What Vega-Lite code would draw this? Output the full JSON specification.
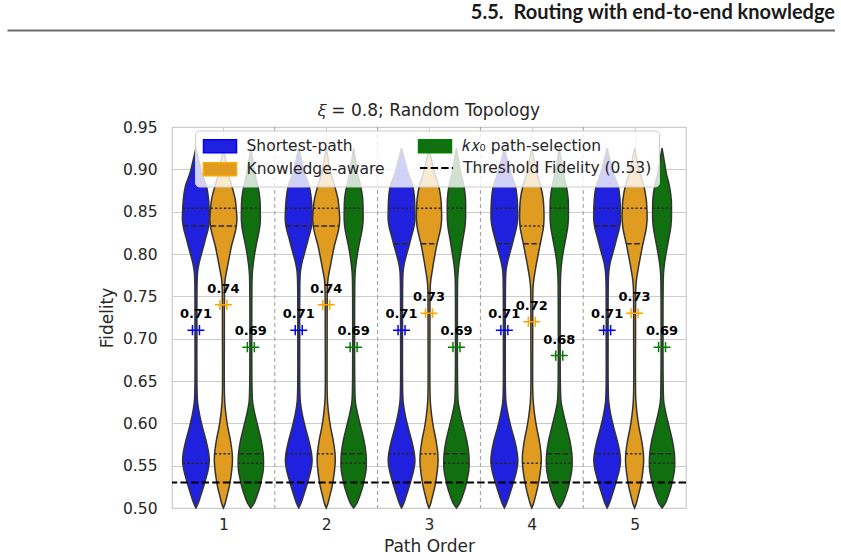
{
  "$schema": "https://vega.github.io/schema/vega-lite/v6.json",
  "padding": {"left": 7, "top": 3, "right": 0, "bottom": 0},
  "background": "white",
  "config": {
    "font": "DejaVu Sans",
    "view": {"stroke": null}
  },
  "datasets": {
    "shapes": [
      {"order":1,"m":"SP","f":0.925,"d":0},{"order":1,"m":"SP","f":0.91,"d":0.22},{"order":1,"m":"SP","f":0.895,"d":0.45},{"order":1,"m":"SP","f":0.88,"d":0.78},{"order":1,"m":"SP","f":0.865,"d":0.93},{"order":1,"m":"SP","f":0.85,"d":0.99},{"order":1,"m":"SP","f":0.84,"d":1.0},{"order":1,"m":"SP","f":0.83,"d":0.91},{"order":1,"m":"SP","f":0.82,"d":0.74},{"order":1,"m":"SP","f":0.81,"d":0.58},{"order":1,"m":"SP","f":0.8,"d":0.41},{"order":1,"m":"SP","f":0.79,"d":0.24},{"order":1,"m":"SP","f":0.78,"d":0.13},{"order":1,"m":"SP","f":0.77,"d":0.09},{"order":1,"m":"SP","f":0.7,"d":0.07},{"order":1,"m":"SP","f":0.64,"d":0.08},{"order":1,"m":"SP","f":0.625,"d":0.12},{"order":1,"m":"SP","f":0.61,"d":0.27},{"order":1,"m":"SP","f":0.595,"d":0.49},{"order":1,"m":"SP","f":0.58,"d":0.74},{"order":1,"m":"SP","f":0.565,"d":0.94},{"order":1,"m":"SP","f":0.555,"d":0.99},{"order":1,"m":"SP","f":0.545,"d":0.9},{"order":1,"m":"SP","f":0.535,"d":0.74},{"order":1,"m":"SP","f":0.525,"d":0.56},{"order":1,"m":"SP","f":0.515,"d":0.36},{"order":1,"m":"SP","f":0.505,"d":0.15},{"order":1,"m":"SP","f":0.5,"d":0},
      {"order":1,"m":"KA","f":0.925,"d":0},{"order":1,"m":"KA","f":0.91,"d":0.17},{"order":1,"m":"KA","f":0.895,"d":0.35},{"order":1,"m":"KA","f":0.88,"d":0.63},{"order":1,"m":"KA","f":0.865,"d":0.87},{"order":1,"m":"KA","f":0.85,"d":0.97},{"order":1,"m":"KA","f":0.84,"d":1.0},{"order":1,"m":"KA","f":0.83,"d":0.93},{"order":1,"m":"KA","f":0.82,"d":0.78},{"order":1,"m":"KA","f":0.81,"d":0.61},{"order":1,"m":"KA","f":0.8,"d":0.48},{"order":1,"m":"KA","f":0.79,"d":0.36},{"order":1,"m":"KA","f":0.78,"d":0.24},{"order":1,"m":"KA","f":0.77,"d":0.13},{"order":1,"m":"KA","f":0.76,"d":0.09},{"order":1,"m":"KA","f":0.7,"d":0.07},{"order":1,"m":"KA","f":0.64,"d":0.07},{"order":1,"m":"KA","f":0.625,"d":0.1},{"order":1,"m":"KA","f":0.61,"d":0.19},{"order":1,"m":"KA","f":0.595,"d":0.33},{"order":1,"m":"KA","f":0.58,"d":0.52},{"order":1,"m":"KA","f":0.565,"d":0.65},{"order":1,"m":"KA","f":0.555,"d":0.67},{"order":1,"m":"KA","f":0.545,"d":0.62},{"order":1,"m":"KA","f":0.535,"d":0.54},{"order":1,"m":"KA","f":0.525,"d":0.43},{"order":1,"m":"KA","f":0.515,"d":0.28},{"order":1,"m":"KA","f":0.505,"d":0.12},{"order":1,"m":"KA","f":0.5,"d":0},
      {"order":1,"m":"KX","f":0.925,"d":0},{"order":1,"m":"KX","f":0.91,"d":0.15},{"order":1,"m":"KX","f":0.895,"d":0.3},{"order":1,"m":"KX","f":0.88,"d":0.52},{"order":1,"m":"KX","f":0.865,"d":0.67},{"order":1,"m":"KX","f":0.85,"d":0.7},{"order":1,"m":"KX","f":0.84,"d":0.7},{"order":1,"m":"KX","f":0.83,"d":0.64},{"order":1,"m":"KX","f":0.82,"d":0.52},{"order":1,"m":"KX","f":0.81,"d":0.39},{"order":1,"m":"KX","f":0.8,"d":0.28},{"order":1,"m":"KX","f":0.79,"d":0.19},{"order":1,"m":"KX","f":0.78,"d":0.12},{"order":1,"m":"KX","f":0.77,"d":0.09},{"order":1,"m":"KX","f":0.7,"d":0.07},{"order":1,"m":"KX","f":0.64,"d":0.09},{"order":1,"m":"KX","f":0.625,"d":0.13},{"order":1,"m":"KX","f":0.61,"d":0.31},{"order":1,"m":"KX","f":0.595,"d":0.54},{"order":1,"m":"KX","f":0.58,"d":0.76},{"order":1,"m":"KX","f":0.565,"d":0.91},{"order":1,"m":"KX","f":0.555,"d":0.94},{"order":1,"m":"KX","f":0.545,"d":0.92},{"order":1,"m":"KX","f":0.535,"d":0.81},{"order":1,"m":"KX","f":0.525,"d":0.67},{"order":1,"m":"KX","f":0.515,"d":0.47},{"order":1,"m":"KX","f":0.505,"d":0.22},{"order":1,"m":"KX","f":0.5,"d":0},

      {"order":2,"m":"SP","f":0.925,"d":0},{"order":2,"m":"SP","f":0.91,"d":0.22},{"order":2,"m":"SP","f":0.895,"d":0.45},{"order":2,"m":"SP","f":0.88,"d":0.78},{"order":2,"m":"SP","f":0.865,"d":0.93},{"order":2,"m":"SP","f":0.85,"d":0.99},{"order":2,"m":"SP","f":0.84,"d":1.0},{"order":2,"m":"SP","f":0.83,"d":0.91},{"order":2,"m":"SP","f":0.82,"d":0.74},{"order":2,"m":"SP","f":0.81,"d":0.58},{"order":2,"m":"SP","f":0.8,"d":0.41},{"order":2,"m":"SP","f":0.79,"d":0.24},{"order":2,"m":"SP","f":0.78,"d":0.13},{"order":2,"m":"SP","f":0.77,"d":0.09},{"order":2,"m":"SP","f":0.7,"d":0.07},{"order":2,"m":"SP","f":0.64,"d":0.08},{"order":2,"m":"SP","f":0.625,"d":0.12},{"order":2,"m":"SP","f":0.61,"d":0.27},{"order":2,"m":"SP","f":0.595,"d":0.49},{"order":2,"m":"SP","f":0.58,"d":0.74},{"order":2,"m":"SP","f":0.565,"d":0.94},{"order":2,"m":"SP","f":0.555,"d":0.99},{"order":2,"m":"SP","f":0.545,"d":0.9},{"order":2,"m":"SP","f":0.535,"d":0.74},{"order":2,"m":"SP","f":0.525,"d":0.56},{"order":2,"m":"SP","f":0.515,"d":0.36},{"order":2,"m":"SP","f":0.505,"d":0.15},{"order":2,"m":"SP","f":0.5,"d":0},
      {"order":2,"m":"KA","f":0.925,"d":0},{"order":2,"m":"KA","f":0.91,"d":0.17},{"order":2,"m":"KA","f":0.895,"d":0.35},{"order":2,"m":"KA","f":0.88,"d":0.63},{"order":2,"m":"KA","f":0.865,"d":0.87},{"order":2,"m":"KA","f":0.85,"d":0.97},{"order":2,"m":"KA","f":0.84,"d":1.0},{"order":2,"m":"KA","f":0.83,"d":0.93},{"order":2,"m":"KA","f":0.82,"d":0.78},{"order":2,"m":"KA","f":0.81,"d":0.61},{"order":2,"m":"KA","f":0.8,"d":0.48},{"order":2,"m":"KA","f":0.79,"d":0.36},{"order":2,"m":"KA","f":0.78,"d":0.24},{"order":2,"m":"KA","f":0.77,"d":0.13},{"order":2,"m":"KA","f":0.76,"d":0.09},{"order":2,"m":"KA","f":0.7,"d":0.07},{"order":2,"m":"KA","f":0.64,"d":0.07},{"order":2,"m":"KA","f":0.625,"d":0.1},{"order":2,"m":"KA","f":0.61,"d":0.19},{"order":2,"m":"KA","f":0.595,"d":0.33},{"order":2,"m":"KA","f":0.58,"d":0.52},{"order":2,"m":"KA","f":0.565,"d":0.65},{"order":2,"m":"KA","f":0.555,"d":0.67},{"order":2,"m":"KA","f":0.545,"d":0.62},{"order":2,"m":"KA","f":0.535,"d":0.54},{"order":2,"m":"KA","f":0.525,"d":0.43},{"order":2,"m":"KA","f":0.515,"d":0.28},{"order":2,"m":"KA","f":0.505,"d":0.12},{"order":2,"m":"KA","f":0.5,"d":0},
      {"order":2,"m":"KX","f":0.925,"d":0},{"order":2,"m":"KX","f":0.91,"d":0.15},{"order":2,"m":"KX","f":0.895,"d":0.3},{"order":2,"m":"KX","f":0.88,"d":0.52},{"order":2,"m":"KX","f":0.865,"d":0.67},{"order":2,"m":"KX","f":0.85,"d":0.7},{"order":2,"m":"KX","f":0.84,"d":0.7},{"order":2,"m":"KX","f":0.83,"d":0.64},{"order":2,"m":"KX","f":0.82,"d":0.52},{"order":2,"m":"KX","f":0.81,"d":0.39},{"order":2,"m":"KX","f":0.8,"d":0.28},{"order":2,"m":"KX","f":0.79,"d":0.19},{"order":2,"m":"KX","f":0.78,"d":0.12},{"order":2,"m":"KX","f":0.77,"d":0.09},{"order":2,"m":"KX","f":0.7,"d":0.07},{"order":2,"m":"KX","f":0.64,"d":0.09},{"order":2,"m":"KX","f":0.625,"d":0.13},{"order":2,"m":"KX","f":0.61,"d":0.31},{"order":2,"m":"KX","f":0.595,"d":0.54},{"order":2,"m":"KX","f":0.58,"d":0.76},{"order":2,"m":"KX","f":0.565,"d":0.91},{"order":2,"m":"KX","f":0.555,"d":0.94},{"order":2,"m":"KX","f":0.545,"d":0.92},{"order":2,"m":"KX","f":0.535,"d":0.81},{"order":2,"m":"KX","f":0.525,"d":0.67},{"order":2,"m":"KX","f":0.515,"d":0.47},{"order":2,"m":"KX","f":0.505,"d":0.22},{"order":2,"m":"KX","f":0.5,"d":0},

      {"order":3,"m":"SP","f":0.925,"d":0},{"order":3,"m":"SP","f":0.91,"d":0.24},{"order":3,"m":"SP","f":0.895,"d":0.5},{"order":3,"m":"SP","f":0.88,"d":0.84},{"order":3,"m":"SP","f":0.865,"d":0.96},{"order":3,"m":"SP","f":0.85,"d":0.99},{"order":3,"m":"SP","f":0.84,"d":0.99},{"order":3,"m":"SP","f":0.83,"d":0.89},{"order":3,"m":"SP","f":0.82,"d":0.72},{"order":3,"m":"SP","f":0.81,"d":0.56},{"order":3,"m":"SP","f":0.8,"d":0.38},{"order":3,"m":"SP","f":0.79,"d":0.22},{"order":3,"m":"SP","f":0.78,"d":0.12},{"order":3,"m":"SP","f":0.77,"d":0.09},{"order":3,"m":"SP","f":0.7,"d":0.07},{"order":3,"m":"SP","f":0.64,"d":0.08},{"order":3,"m":"SP","f":0.625,"d":0.12},{"order":3,"m":"SP","f":0.61,"d":0.27},{"order":3,"m":"SP","f":0.595,"d":0.49},{"order":3,"m":"SP","f":0.58,"d":0.74},{"order":3,"m":"SP","f":0.565,"d":0.94},{"order":3,"m":"SP","f":0.555,"d":0.99},{"order":3,"m":"SP","f":0.545,"d":0.9},{"order":3,"m":"SP","f":0.535,"d":0.74},{"order":3,"m":"SP","f":0.525,"d":0.56},{"order":3,"m":"SP","f":0.515,"d":0.36},{"order":3,"m":"SP","f":0.505,"d":0.15},{"order":3,"m":"SP","f":0.5,"d":0},
      {"order":3,"m":"KA","f":0.925,"d":0},{"order":3,"m":"KA","f":0.91,"d":0.2},{"order":3,"m":"KA","f":0.895,"d":0.42},{"order":3,"m":"KA","f":0.88,"d":0.72},{"order":3,"m":"KA","f":0.865,"d":0.88},{"order":3,"m":"KA","f":0.85,"d":0.93},{"order":3,"m":"KA","f":0.84,"d":0.93},{"order":3,"m":"KA","f":0.83,"d":0.86},{"order":3,"m":"KA","f":0.82,"d":0.72},{"order":3,"m":"KA","f":0.81,"d":0.57},{"order":3,"m":"KA","f":0.8,"d":0.45},{"order":3,"m":"KA","f":0.79,"d":0.34},{"order":3,"m":"KA","f":0.78,"d":0.24},{"order":3,"m":"KA","f":0.77,"d":0.14},{"order":3,"m":"KA","f":0.76,"d":0.09},{"order":3,"m":"KA","f":0.7,"d":0.07},{"order":3,"m":"KA","f":0.64,"d":0.07},{"order":3,"m":"KA","f":0.625,"d":0.1},{"order":3,"m":"KA","f":0.61,"d":0.19},{"order":3,"m":"KA","f":0.595,"d":0.33},{"order":3,"m":"KA","f":0.58,"d":0.52},{"order":3,"m":"KA","f":0.565,"d":0.65},{"order":3,"m":"KA","f":0.555,"d":0.67},{"order":3,"m":"KA","f":0.545,"d":0.62},{"order":3,"m":"KA","f":0.535,"d":0.54},{"order":3,"m":"KA","f":0.525,"d":0.43},{"order":3,"m":"KA","f":0.515,"d":0.28},{"order":3,"m":"KA","f":0.505,"d":0.12},{"order":3,"m":"KA","f":0.5,"d":0},
      {"order":3,"m":"KX","f":0.925,"d":0},{"order":3,"m":"KX","f":0.91,"d":0.16},{"order":3,"m":"KX","f":0.895,"d":0.33},{"order":3,"m":"KX","f":0.88,"d":0.56},{"order":3,"m":"KX","f":0.865,"d":0.67},{"order":3,"m":"KX","f":0.85,"d":0.68},{"order":3,"m":"KX","f":0.84,"d":0.67},{"order":3,"m":"KX","f":0.83,"d":0.61},{"order":3,"m":"KX","f":0.82,"d":0.5},{"order":3,"m":"KX","f":0.81,"d":0.4},{"order":3,"m":"KX","f":0.8,"d":0.3},{"order":3,"m":"KX","f":0.79,"d":0.2},{"order":3,"m":"KX","f":0.78,"d":0.13},{"order":3,"m":"KX","f":0.77,"d":0.09},{"order":3,"m":"KX","f":0.7,"d":0.07},{"order":3,"m":"KX","f":0.64,"d":0.09},{"order":3,"m":"KX","f":0.625,"d":0.13},{"order":3,"m":"KX","f":0.61,"d":0.31},{"order":3,"m":"KX","f":0.595,"d":0.54},{"order":3,"m":"KX","f":0.58,"d":0.76},{"order":3,"m":"KX","f":0.565,"d":0.91},{"order":3,"m":"KX","f":0.555,"d":0.94},{"order":3,"m":"KX","f":0.545,"d":0.92},{"order":3,"m":"KX","f":0.535,"d":0.81},{"order":3,"m":"KX","f":0.525,"d":0.67},{"order":3,"m":"KX","f":0.515,"d":0.47},{"order":3,"m":"KX","f":0.505,"d":0.22},{"order":3,"m":"KX","f":0.5,"d":0},

      {"order":4,"m":"SP","f":0.925,"d":0},{"order":4,"m":"SP","f":0.91,"d":0.24},{"order":4,"m":"SP","f":0.895,"d":0.5},{"order":4,"m":"SP","f":0.88,"d":0.82},{"order":4,"m":"SP","f":0.865,"d":0.95},{"order":4,"m":"SP","f":0.85,"d":0.99},{"order":4,"m":"SP","f":0.84,"d":0.98},{"order":4,"m":"SP","f":0.83,"d":0.88},{"order":4,"m":"SP","f":0.82,"d":0.72},{"order":4,"m":"SP","f":0.81,"d":0.56},{"order":4,"m":"SP","f":0.8,"d":0.39},{"order":4,"m":"SP","f":0.79,"d":0.23},{"order":4,"m":"SP","f":0.78,"d":0.12},{"order":4,"m":"SP","f":0.77,"d":0.09},{"order":4,"m":"SP","f":0.7,"d":0.07},{"order":4,"m":"SP","f":0.64,"d":0.08},{"order":4,"m":"SP","f":0.625,"d":0.12},{"order":4,"m":"SP","f":0.61,"d":0.28},{"order":4,"m":"SP","f":0.595,"d":0.5},{"order":4,"m":"SP","f":0.58,"d":0.76},{"order":4,"m":"SP","f":0.565,"d":0.95},{"order":4,"m":"SP","f":0.555,"d":1.0},{"order":4,"m":"SP","f":0.545,"d":0.92},{"order":4,"m":"SP","f":0.535,"d":0.76},{"order":4,"m":"SP","f":0.525,"d":0.57},{"order":4,"m":"SP","f":0.515,"d":0.37},{"order":4,"m":"SP","f":0.505,"d":0.15},{"order":4,"m":"SP","f":0.5,"d":0},
      {"order":4,"m":"KA","f":0.925,"d":0},{"order":4,"m":"KA","f":0.91,"d":0.18},{"order":4,"m":"KA","f":0.895,"d":0.38},{"order":4,"m":"KA","f":0.88,"d":0.66},{"order":4,"m":"KA","f":0.865,"d":0.84},{"order":4,"m":"KA","f":0.85,"d":0.9},{"order":4,"m":"KA","f":0.84,"d":0.9},{"order":4,"m":"KA","f":0.83,"d":0.85},{"order":4,"m":"KA","f":0.82,"d":0.73},{"order":4,"m":"KA","f":0.81,"d":0.6},{"order":4,"m":"KA","f":0.8,"d":0.48},{"order":4,"m":"KA","f":0.79,"d":0.36},{"order":4,"m":"KA","f":0.78,"d":0.25},{"order":4,"m":"KA","f":0.77,"d":0.15},{"order":4,"m":"KA","f":0.76,"d":0.09},{"order":4,"m":"KA","f":0.7,"d":0.07},{"order":4,"m":"KA","f":0.64,"d":0.07},{"order":4,"m":"KA","f":0.625,"d":0.11},{"order":4,"m":"KA","f":0.61,"d":0.21},{"order":4,"m":"KA","f":0.595,"d":0.36},{"order":4,"m":"KA","f":0.58,"d":0.55},{"order":4,"m":"KA","f":0.565,"d":0.68},{"order":4,"m":"KA","f":0.555,"d":0.7},{"order":4,"m":"KA","f":0.545,"d":0.65},{"order":4,"m":"KA","f":0.535,"d":0.56},{"order":4,"m":"KA","f":0.525,"d":0.44},{"order":4,"m":"KA","f":0.515,"d":0.29},{"order":4,"m":"KA","f":0.505,"d":0.12},{"order":4,"m":"KA","f":0.5,"d":0},
      {"order":4,"m":"KX","f":0.925,"d":0},{"order":4,"m":"KX","f":0.91,"d":0.15},{"order":4,"m":"KX","f":0.895,"d":0.31},{"order":4,"m":"KX","f":0.88,"d":0.53},{"order":4,"m":"KX","f":0.865,"d":0.66},{"order":4,"m":"KX","f":0.85,"d":0.68},{"order":4,"m":"KX","f":0.84,"d":0.67},{"order":4,"m":"KX","f":0.83,"d":0.61},{"order":4,"m":"KX","f":0.82,"d":0.5},{"order":4,"m":"KX","f":0.81,"d":0.38},{"order":4,"m":"KX","f":0.8,"d":0.27},{"order":4,"m":"KX","f":0.79,"d":0.18},{"order":4,"m":"KX","f":0.78,"d":0.12},{"order":4,"m":"KX","f":0.77,"d":0.09},{"order":4,"m":"KX","f":0.7,"d":0.07},{"order":4,"m":"KX","f":0.64,"d":0.09},{"order":4,"m":"KX","f":0.625,"d":0.14},{"order":4,"m":"KX","f":0.61,"d":0.33},{"order":4,"m":"KX","f":0.595,"d":0.56},{"order":4,"m":"KX","f":0.58,"d":0.78},{"order":4,"m":"KX","f":0.565,"d":0.93},{"order":4,"m":"KX","f":0.555,"d":0.96},{"order":4,"m":"KX","f":0.545,"d":0.93},{"order":4,"m":"KX","f":0.535,"d":0.82},{"order":4,"m":"KX","f":0.525,"d":0.68},{"order":4,"m":"KX","f":0.515,"d":0.48},{"order":4,"m":"KX","f":0.505,"d":0.22},{"order":4,"m":"KX","f":0.5,"d":0},

      {"order":5,"m":"SP","f":0.925,"d":0},{"order":5,"m":"SP","f":0.91,"d":0.23},{"order":5,"m":"SP","f":0.895,"d":0.48},{"order":5,"m":"SP","f":0.88,"d":0.82},{"order":5,"m":"SP","f":0.865,"d":0.95},{"order":5,"m":"SP","f":0.85,"d":0.99},{"order":5,"m":"SP","f":0.84,"d":0.99},{"order":5,"m":"SP","f":0.83,"d":0.9},{"order":5,"m":"SP","f":0.82,"d":0.73},{"order":5,"m":"SP","f":0.81,"d":0.57},{"order":5,"m":"SP","f":0.8,"d":0.4},{"order":5,"m":"SP","f":0.79,"d":0.23},{"order":5,"m":"SP","f":0.78,"d":0.13},{"order":5,"m":"SP","f":0.77,"d":0.09},{"order":5,"m":"SP","f":0.7,"d":0.07},{"order":5,"m":"SP","f":0.64,"d":0.08},{"order":5,"m":"SP","f":0.625,"d":0.12},{"order":5,"m":"SP","f":0.61,"d":0.27},{"order":5,"m":"SP","f":0.595,"d":0.49},{"order":5,"m":"SP","f":0.58,"d":0.74},{"order":5,"m":"SP","f":0.565,"d":0.94},{"order":5,"m":"SP","f":0.555,"d":0.99},{"order":5,"m":"SP","f":0.545,"d":0.9},{"order":5,"m":"SP","f":0.535,"d":0.74},{"order":5,"m":"SP","f":0.525,"d":0.56},{"order":5,"m":"SP","f":0.515,"d":0.36},{"order":5,"m":"SP","f":0.505,"d":0.15},{"order":5,"m":"SP","f":0.5,"d":0},
      {"order":5,"m":"KA","f":0.925,"d":0},{"order":5,"m":"KA","f":0.91,"d":0.19},{"order":5,"m":"KA","f":0.895,"d":0.4},{"order":5,"m":"KA","f":0.88,"d":0.69},{"order":5,"m":"KA","f":0.865,"d":0.86},{"order":5,"m":"KA","f":0.85,"d":0.92},{"order":5,"m":"KA","f":0.84,"d":0.92},{"order":5,"m":"KA","f":0.83,"d":0.86},{"order":5,"m":"KA","f":0.82,"d":0.73},{"order":5,"m":"KA","f":0.81,"d":0.59},{"order":5,"m":"KA","f":0.8,"d":0.47},{"order":5,"m":"KA","f":0.79,"d":0.35},{"order":5,"m":"KA","f":0.78,"d":0.24},{"order":5,"m":"KA","f":0.77,"d":0.14},{"order":5,"m":"KA","f":0.76,"d":0.09},{"order":5,"m":"KA","f":0.7,"d":0.07},{"order":5,"m":"KA","f":0.64,"d":0.07},{"order":5,"m":"KA","f":0.625,"d":0.1},{"order":5,"m":"KA","f":0.61,"d":0.19},{"order":5,"m":"KA","f":0.595,"d":0.33},{"order":5,"m":"KA","f":0.58,"d":0.52},{"order":5,"m":"KA","f":0.565,"d":0.65},{"order":5,"m":"KA","f":0.555,"d":0.67},{"order":5,"m":"KA","f":0.545,"d":0.62},{"order":5,"m":"KA","f":0.535,"d":0.54},{"order":5,"m":"KA","f":0.525,"d":0.43},{"order":5,"m":"KA","f":0.515,"d":0.28},{"order":5,"m":"KA","f":0.505,"d":0.12},{"order":5,"m":"KA","f":0.5,"d":0},
      {"order":5,"m":"KX","f":0.925,"d":0},{"order":5,"m":"KX","f":0.91,"d":0.16},{"order":5,"m":"KX","f":0.895,"d":0.32},{"order":5,"m":"KX","f":0.88,"d":0.55},{"order":5,"m":"KX","f":0.865,"d":0.68},{"order":5,"m":"KX","f":0.85,"d":0.7},{"order":5,"m":"KX","f":0.84,"d":0.69},{"order":5,"m":"KX","f":0.83,"d":0.63},{"order":5,"m":"KX","f":0.82,"d":0.52},{"order":5,"m":"KX","f":0.81,"d":0.4},{"order":5,"m":"KX","f":0.8,"d":0.29},{"order":5,"m":"KX","f":0.79,"d":0.19},{"order":5,"m":"KX","f":0.78,"d":0.12},{"order":5,"m":"KX","f":0.77,"d":0.09},{"order":5,"m":"KX","f":0.7,"d":0.07},{"order":5,"m":"KX","f":0.64,"d":0.09},{"order":5,"m":"KX","f":0.625,"d":0.13},{"order":5,"m":"KX","f":0.61,"d":0.31},{"order":5,"m":"KX","f":0.595,"d":0.54},{"order":5,"m":"KX","f":0.58,"d":0.76},{"order":5,"m":"KX","f":0.565,"d":0.91},{"order":5,"m":"KX","f":0.555,"d":0.94},{"order":5,"m":"KX","f":0.545,"d":0.92},{"order":5,"m":"KX","f":0.535,"d":0.81},{"order":5,"m":"KX","f":0.525,"d":0.67},{"order":5,"m":"KX","f":0.515,"d":0.47},{"order":5,"m":"KX","f":0.505,"d":0.22},{"order":5,"m":"KX","f":0.5,"d":0}
    ],
    "quartiles": [
      {"order":1,"m":"SP","f":0.854,"d":0.97,"kind":"quartile"},{"order":1,"m":"SP","f":0.833,"d":0.94,"kind":"median"},{"order":1,"m":"SP","f":0.553,"d":0.97,"kind":"quartile"},
      {"order":1,"m":"KA","f":0.854,"d":0.94,"kind":"quartile"},{"order":1,"m":"KA","f":0.833,"d":0.95,"kind":"median"},{"order":1,"m":"KA","f":0.564,"d":0.65,"kind":"quartile"},
      {"order":1,"m":"KX","f":0.854,"d":0.69,"kind":"quartile"},{"order":1,"m":"KX","f":0.564,"d":0.91,"kind":"median"},{"order":1,"m":"KX","f":0.553,"d":0.94,"kind":"quartile"},
      {"order":2,"m":"SP","f":0.854,"d":0.97,"kind":"quartile"},{"order":2,"m":"SP","f":0.833,"d":0.94,"kind":"median"},{"order":2,"m":"SP","f":0.564,"d":0.95,"kind":"quartile"},
      {"order":2,"m":"KA","f":0.854,"d":0.94,"kind":"quartile"},{"order":2,"m":"KA","f":0.833,"d":0.95,"kind":"median"},{"order":2,"m":"KA","f":0.564,"d":0.65,"kind":"quartile"},
      {"order":2,"m":"KX","f":0.854,"d":0.69,"kind":"quartile"},{"order":2,"m":"KX","f":0.564,"d":0.91,"kind":"median"},{"order":2,"m":"KX","f":0.553,"d":0.94,"kind":"quartile"},
      {"order":3,"m":"SP","f":0.854,"d":0.98,"kind":"quartile"},{"order":3,"m":"SP","f":0.812,"d":0.59,"kind":"median"},{"order":3,"m":"SP","f":0.564,"d":0.95,"kind":"quartile"},
      {"order":3,"m":"KA","f":0.854,"d":0.92,"kind":"quartile"},{"order":3,"m":"KA","f":0.812,"d":0.6,"kind":"median"},{"order":3,"m":"KA","f":0.564,"d":0.65,"kind":"quartile"},
      {"order":3,"m":"KX","f":0.854,"d":0.68,"kind":"quartile"},{"order":3,"m":"KX","f":0.564,"d":0.91,"kind":"median"},{"order":3,"m":"KX","f":0.553,"d":0.94,"kind":"quartile"},
      {"order":4,"m":"SP","f":0.854,"d":0.98,"kind":"quartile"},{"order":4,"m":"SP","f":0.812,"d":0.59,"kind":"median"},{"order":4,"m":"SP","f":0.553,"d":0.98,"kind":"quartile"},
      {"order":4,"m":"KA","f":0.833,"d":0.87,"kind":"quartile"},{"order":4,"m":"KA","f":0.812,"d":0.63,"kind":"median"},{"order":4,"m":"KA","f":0.553,"d":0.69,"kind":"quartile"},
      {"order":4,"m":"KX","f":0.854,"d":0.68,"kind":"quartile"},{"order":4,"m":"KX","f":0.564,"d":0.93,"kind":"median"},{"order":4,"m":"KX","f":0.553,"d":0.95,"kind":"quartile"},
      {"order":5,"m":"SP","f":0.854,"d":0.98,"kind":"quartile"},{"order":5,"m":"SP","f":0.833,"d":0.93,"kind":"median"},{"order":5,"m":"SP","f":0.564,"d":0.95,"kind":"quartile"},
      {"order":5,"m":"KA","f":0.854,"d":0.91,"kind":"quartile"},{"order":5,"m":"KA","f":0.812,"d":0.62,"kind":"median"},{"order":5,"m":"KA","f":0.564,"d":0.65,"kind":"quartile"},
      {"order":5,"m":"KX","f":0.854,"d":0.7,"kind":"quartile"},{"order":5,"m":"KX","f":0.564,"d":0.91,"kind":"median"},{"order":5,"m":"KX","f":0.553,"d":0.94,"kind":"quartile"}
    ],
    "means": [
      {"order":1,"m":"SP","mean":0.71},{"order":1,"m":"KA","mean":0.74},{"order":1,"m":"KX","mean":0.69},
      {"order":2,"m":"SP","mean":0.71},{"order":2,"m":"KA","mean":0.74},{"order":2,"m":"KX","mean":0.69},
      {"order":3,"m":"SP","mean":0.71},{"order":3,"m":"KA","mean":0.73},{"order":3,"m":"KX","mean":0.69},
      {"order":4,"m":"SP","mean":0.71},{"order":4,"m":"KA","mean":0.72},{"order":4,"m":"KX","mean":0.68},
      {"order":5,"m":"SP","mean":0.71},{"order":5,"m":"KA","mean":0.73},{"order":5,"m":"KX","mean":0.69}
    ],
    "groupBounds": [{"b":1.5},{"b":2.5},{"b":3.5},{"b":4.5}],
    "threshold": [{"fidelity":0.53}]
  },
  "bounds": "flush",
  "spacing": 97,
  "vconcat": [
    {
      "width": 828,
      "height": 1,
      "title": {"text": "5.5.\u2002Routing with end-to-end knowledge", "anchor": "end", "frame": "group", "font": "Lato", "fontSize": 20, "fontWeight": "bold", "color": "#1a1a1a", "offset": 6},
      "data": {"values": []},
      "mark": "tick",
      "encoding": {
        "x": {"field": "v", "type": "quantitative", "scale": {"domain": [0, 1]},
              "axis": {"domain": true, "domainColor": "#6b6b6b", "domainWidth": 2, "ticks": false, "labels": false, "grid": false, "title": null}}
      }
    },
    {
      "bounds": "flush",
      "spacing": 0,
      "hconcat": [
        {"width": 165, "height": 381, "data": {"values": []}, "mark": "point"},
        {
          "width": 514,
          "height": 381,
          "view": {"stroke": "#cccccc", "strokeWidth": 1.25},
          "title": {"text": "𝜉 = 0.8; Random Topology", "anchor": "middle", "frame": "group", "fontSize": 17, "fontWeight": "normal", "color": "#262626", "offset": 0},
          "layer": [
            {
              "data": {"name": "groupBounds"},
              "mark": {"type": "rule", "color": "#9a9a9a", "strokeDash": [4, 3], "strokeWidth": 1},
              "encoding": {
                "x": {"field": "b", "type": "quantitative",
                      "scale": {"domain": [0.5, 5.5], "nice": false, "zero": false},
                      "axis": {"title": "Path Order", "values": [1, 2, 3, 4, 5], "format": "d", "grid": true, "gridColor": "#cccccc", "gridWidth": 1, "ticks": false, "domain": false,
                               "labelFontSize": 15.5, "labelColor": "#262626", "labelPadding": 9, "titleFontSize": 17, "titleFontWeight": "normal", "titleColor": "#262626", "titlePadding": 6}}
              }
            },
            {
              "data": {"name": "shapes"},
              "transform": [
                {"calculate": "datum.order + (datum.m === 'SP' ? -0.267 : datum.m === 'KX' ? 0.267 : 0)", "as": "center"},
                {"calculate": "datum.center - 0.1313 * datum.d", "as": "lo"},
                {"calculate": "datum.center + 0.1313 * datum.d", "as": "hi"}
              ],
              "mark": {"type": "area", "orient": "horizontal", "interpolate": "catmull-rom", "stroke": "#333333", "strokeWidth": 1.5, "opacity": 1, "fillOpacity": 1},
              "encoding": {
                "y": {"field": "f", "type": "quantitative",
                      "scale": {"domain": [0.5, 0.95], "nice": false, "zero": false},
                      "axis": {"title": "Fidelity", "values": [0.5, 0.55, 0.6, 0.65, 0.7, 0.75, 0.8, 0.85, 0.9, 0.95], "format": ".2f", "grid": true, "gridColor": "#cccccc", "gridWidth": 1, "ticks": false, "domain": false,
                               "labelFontSize": 15.5, "labelColor": "#262626", "labelPadding": 15, "titleFontSize": 17, "titleFontWeight": "normal", "titleColor": "#262626", "titlePadding": 6}},
                "x": {"field": "lo", "type": "quantitative"},
                "x2": {"field": "hi"},
                "detail": {"field": "order", "type": "nominal"},
                "color": {
                  "field": "m", "type": "nominal",
                  "scale": {"domain": ["SP", "KA", "KX"], "range": ["#2020df", "#df9c20", "#107010"]},
                  "legend": {
                    "title": null, "orient": "none", "legendX": 188, "legendY": 101.5, "columns": 2, "zindex": 1,
                    "symbolType": "M-1,-0.93H3.714V0.93H-1Z", "symbolSize": 196, "symbolStrokeWidth": 1.5, "symbolStrokeColor": "#333333",
                    "labelFontSize": 15.5, "labelColor": "#262626", "labelOffset": 28, "labelLimit": 300, "columnPadding": 30, "rowPadding": 3.2,
                    "padding": 7.5, "fillColor": "rgba(255,255,255,0.8)", "strokeColor": "#cccccc", "cornerRadius": 4,
                    "labelExpr": "datum.value === 'SP' ? 'Shortest-path' : datum.value === 'KA' ? 'Knowledge-aware' : '𝑘𝑥₀ path-selection\u00a0\u2800\u2800\u2800\u2800'"
                  }
                }
              }
            },
            {
              "data": {"name": "quartiles"},
              "transform": [
                {"filter": "datum.kind === 'quartile'"},
                {"calculate": "datum.order + (datum.m === 'SP' ? -0.267 : datum.m === 'KX' ? 0.267 : 0)", "as": "center"},
                {"calculate": "datum.center - 0.1313 * datum.d", "as": "lo"},
                {"calculate": "datum.center + 0.1313 * datum.d", "as": "hi"}
              ],
              "mark": {"type": "rule", "color": "#262626", "strokeWidth": 1.5, "strokeDash": [2.2, 2.2]},
              "encoding": {
                "y": {"field": "f", "type": "quantitative"},
                "x": {"field": "lo", "type": "quantitative"},
                "x2": {"field": "hi"}
              }
            },
            {
              "data": {"name": "quartiles"},
              "transform": [
                {"filter": "datum.kind === 'median'"},
                {"calculate": "datum.order + (datum.m === 'SP' ? -0.267 : datum.m === 'KX' ? 0.267 : 0)", "as": "center"},
                {"calculate": "datum.center - 0.1313 * datum.d", "as": "lo"},
                {"calculate": "datum.center + 0.1313 * datum.d", "as": "hi"}
              ],
              "mark": {"type": "rule", "color": "#262626", "strokeWidth": 1.5, "strokeDash": [5.5, 2.5]},
              "encoding": {
                "y": {"field": "f", "type": "quantitative"},
                "x": {"field": "lo", "type": "quantitative"},
                "x2": {"field": "hi"}
              }
            },
            {
              "data": {"name": "threshold"},
              "mark": {"type": "rule", "color": "#000000", "strokeWidth": 2},
              "encoding": {
                "y": {"field": "fidelity", "type": "quantitative"},
                "strokeDash": {
                  "datum": "TH", "type": "nominal",
                  "scale": {"domain": ["TH"], "range": [[7.4, 3.2]]},
                  "legend": {
                    "title": null, "orient": "none", "legendX": 412, "legendY": 131, "zindex": 2,
                    "symbolType": "M-1,0H3.714", "symbolSize": 196, "symbolStrokeColor": "#000000", "symbolStrokeWidth": 2,
                    "labelFontSize": 15.5, "labelColor": "#262626", "labelOffset": 28, "labelLimit": 300, "padding": 0,
                    "labelExpr": "'Threshold Fidelity (0.53)'"
                  }
                }
              }
            },
            {
              "data": {"name": "means"},
              "transform": [
                {"calculate": "datum.order + (datum.m === 'SP' ? -0.267 : datum.m === 'KX' ? 0.267 : 0)", "as": "center"}
              ],
              "mark": {"type": "point", "filled": false, "shape": "M-1,0H0.18M-0.41,-0.6V0.6M-0.18,0H1M0.41,-0.6V0.6", "size": 289, "strokeWidth": 1.5, "opacity": 1},
              "encoding": {
                "x": {"field": "center", "type": "quantitative"},
                "y": {"field": "mean", "type": "quantitative"},
                "stroke": {"field": "m", "type": "nominal", "scale": {"domain": ["SP", "KA", "KX"], "range": ["#0000ff", "#ffa500", "#008000"]}, "legend": null}
              }
            },
            {
              "data": {"name": "means"},
              "transform": [
                {"calculate": "datum.order + (datum.m === 'SP' ? -0.267 : datum.m === 'KX' ? 0.267 : 0)", "as": "center"}
              ],
              "mark": {"type": "text", "fontWeight": "bold", "fontSize": 13, "color": "#000000", "dy": -16, "baseline": "middle", "align": "center"},
              "encoding": {
                "x": {"field": "center", "type": "quantitative"},
                "y": {"field": "mean", "type": "quantitative"},
                "text": {"field": "mean", "type": "quantitative", "format": ".2f"}
              }
            }
          ]
        }
      ]
    }
  ]
}
